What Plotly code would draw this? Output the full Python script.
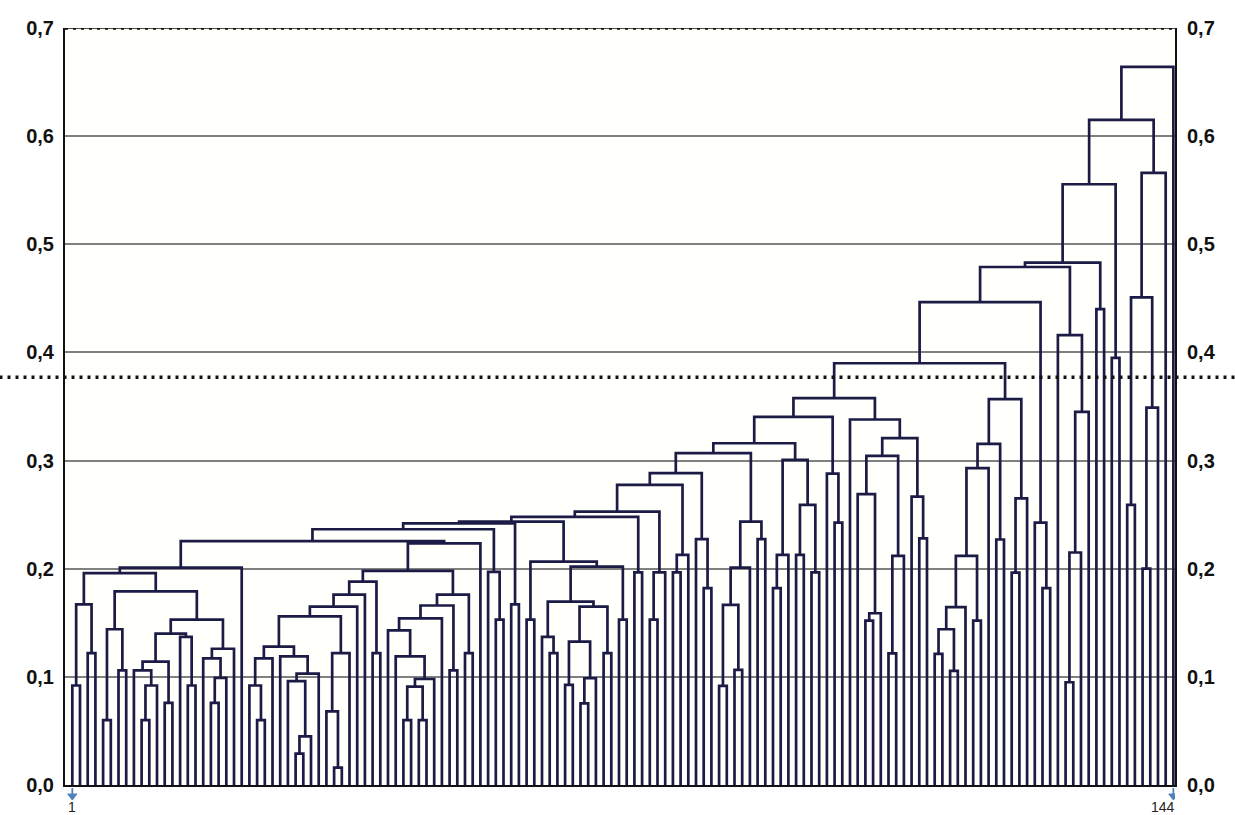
import plotly.graph_objects as go

# Linkage distance at which leaf k and leaf k+1 end up in the same cluster,
# listed in leaf order (leaves 1..144 -> 143 neighbouring pairs).
link_heights_01_36 = [0.092, 0.167, 0.122, 0.196, 0.060, 0.144, 0.106, 0.179, 0.106, 0.060,
                      0.092, 0.114, 0.076, 0.140, 0.137, 0.092, 0.153, 0.117, 0.076, 0.099,
                      0.126, 0.201, 0.2255, 0.092, 0.060, 0.117, 0.128, 0.119, 0.096, 0.029,
                      0.045, 0.103, 0.156, 0.068, 0.016, 0.122]
link_heights_37_72 = [0.165, 0.176, 0.188, 0.122, 0.198, 0.143, 0.119, 0.060, 0.091, 0.060,
                      0.098, 0.154, 0.166, 0.106, 0.176, 0.122, 0.2235, 0.2365, 0.197, 0.153,
                      0.242, 0.167, 0.2435, 0.153, 0.2066, 0.137, 0.122, 0.1696, 0.0925, 0.1326,
                      0.0755, 0.0987, 0.165, 0.122, 0.202, 0.153]
link_heights_73_108 = [0.248, 0.1967, 0.2527, 0.153, 0.1967, 0.2775, 0.1967, 0.2128, 0.2883, 0.2273,
                       0.182, 0.3068, 0.0916, 0.1665, 0.1064, 0.201, 0.2436, 0.2273, 0.316, 0.182,
                       0.2128, 0.3006, 0.2128, 0.259, 0.1967, 0.3404, 0.288, 0.2427, 0.3577, 0.338,
                       0.269, 0.152, 0.1588, 0.3043, 0.1218, 0.2118]
link_heights_109_143 = [0.3207, 0.2667, 0.228, 0.390, 0.1212, 0.144, 0.1055, 0.1644, 0.2118, 0.152,
                        0.293, 0.3155, 0.227, 0.3568, 0.1964, 0.265, 0.4466, 0.2427, 0.182, 0.479,
                        0.416, 0.095, 0.215, 0.345, 0.483, 0.440, 0.5555, 0.395, 0.615, 0.259,
                        0.451, 0.200, 0.349, 0.566, 0.664]

n_leaves = 144
end_labels = ["1", "144"]
y_ticks = [0.0, 0.1, 0.2, 0.3, 0.4, 0.5, 0.6, 0.7]
cut_level = 0.377

gaps = link_heights_01_36 + link_heights_37_72 + link_heights_73_108 + link_heights_109_143
gap_of = {k + 1: h for k, h in enumerate(gaps)}  # gap k sits between leaf k and k+1

xs, ys = [], []


def build(a, b):
    """Split leaves a..b at their highest link and draw the U-shaped connector."""
    if a == b:
        return float(a), 0.0
    k = max(range(a, b), key=lambda i: gap_of[i])
    h = gap_of[k]
    xl, hl = build(a, k)
    xr, hr = build(k + 1, b)
    xs.extend([xl, xl, xr, xr, None])
    ys.extend([hl, h, h, hr, None])
    return (xl + xr) / 2.0, h


build(1, n_leaves)

line_col = "#1b1b46"
tick_font = dict(family="Liberation Sans", size=20, color="#111111", weight="bold")

fig = go.Figure()
fig.add_trace(go.Scatter(x=xs, y=ys, mode="lines",
                         line=dict(color=line_col, width=2.7),
                         hoverinfo="skip", showlegend=False))
# carrier trace so the right-hand axis is drawn
fig.add_trace(go.Scatter(x=[None], y=[None], yaxis="y2", showlegend=False, hoverinfo="skip"))

fig.update_layout(
    width=1235, height=815,
    margin=dict(l=65, r=60, t=28, b=30),
    paper_bgcolor="white",
    plot_bgcolor="#fffffc",
    separators=",.",
    xaxis=dict(range=[0.05, 144.21], showgrid=False, zeroline=False,
               showticklabels=False, showline=True, linecolor="#111111", linewidth=2),
    yaxis=dict(range=[0, 0.7], tickvals=y_ticks, tickformat=".1f",
               showgrid=True, gridcolor="#808080", gridwidth=1.5, zeroline=False,
               showline=True, linecolor="#111111", linewidth=2, ticks="",
               tickfont=tick_font, ticklabelstandoff=5),
    yaxis2=dict(range=[0, 0.7], overlaying="y", side="right", tickvals=y_ticks,
                tickformat=".1f", showgrid=False, zeroline=False,
                showline=True, linecolor="#111111", linewidth=2, ticks="",
                tickfont=tick_font, ticklabelstandoff=6),
)

# cut level across the whole figure and the dotted top frame
fig.add_shape(type="line", xref="paper", yref="y", x0=-0.059, x1=1.054,
              y0=cut_level, y1=cut_level, line=dict(color="#111111", width=3.5, dash="3px,5px"))
fig.add_shape(type="line", xref="paper", yref="y", x0=0, x1=1, y0=0.7, y1=0.7,
              line=dict(color="#111111", width=1.5))
fig.add_shape(type="line", xref="paper", yref="y", x0=0, x1=1, y0=0.7, y1=0.7,
              line=dict(color="#111111", width=3.5, dash="3px,5px"))

# first and last leaf markers: small blue down arrows with the leaf number below
plot_h = 815 - 28 - 30
arrow_col = "#4f81bd"
for leaf, text, shift in [(1, end_labels[0], 0), (n_leaves, end_labels[1], -10)]:
    y_top = -3 / plot_h
    y_tip = -15 / plot_h
    y_base = -9 / plot_h
    fig.add_shape(type="line", xref="x", yref="paper", x0=leaf, x1=leaf,
                  y0=y_top, y1=y_base, line=dict(color=arrow_col, width=1.8))
    fig.add_shape(type="path", xref="x", yref="paper",
                  path=f"M {leaf - 0.6},{y_base} L {leaf + 0.6},{y_base} L {leaf},{y_tip} Z",
                  fillcolor=arrow_col, line=dict(color=arrow_col, width=1))
    fig.add_annotation(x=leaf, y=0, xref="x", yref="y", text=text, showarrow=False,
                       yanchor="top", yshift=-12, xshift=shift,
                       font=dict(family="Liberation Sans", size=14, color="#222222"))

fig.write_html("out.html")
